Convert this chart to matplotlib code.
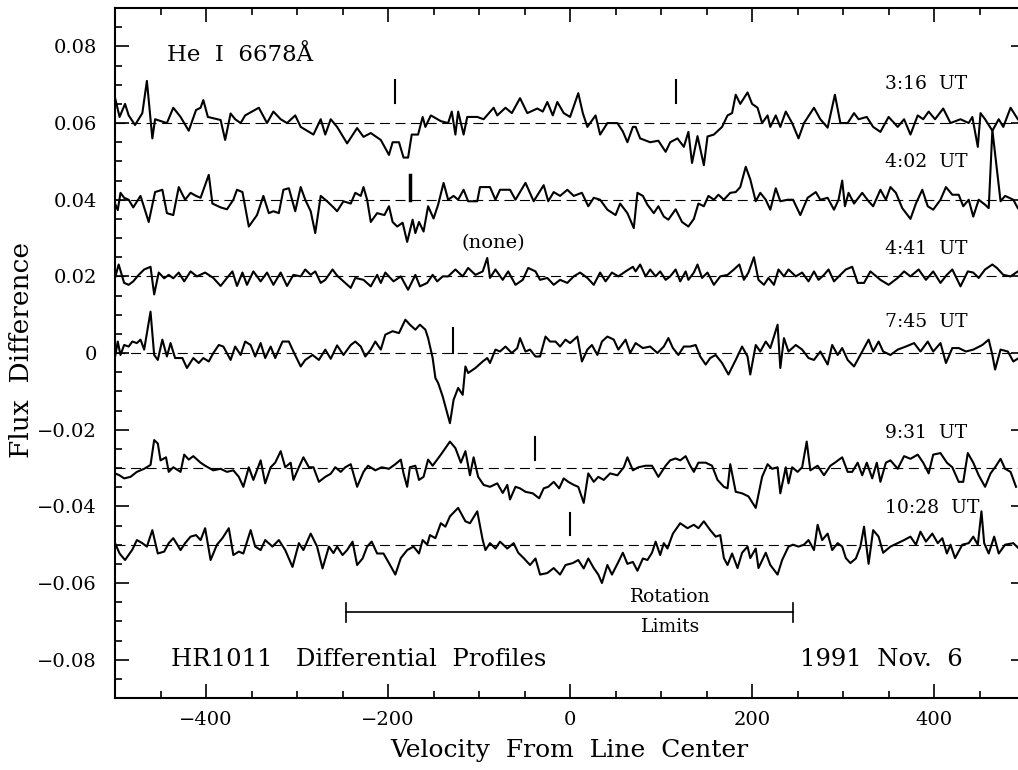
import numpy as np
import matplotlib
matplotlib.use('Agg')
import matplotlib.pyplot as plt
from matplotlib.ticker import MultipleLocator, FuncFormatter

plt.rcParams['font.family'] = 'DejaVu Serif'

# profile values are flux differences in units of 1e-3
t316_v = [-500,-495,-489,-485,-478,-470,-465,-459,-456,-443,-436,-428,-419,-411,-406,-403,-398,-384,-379,-373,
          -368,-362,-357,-342,-333,-326,-318,-311,-302,-296,-289,-282,-274,-269,-263,-256,-245,-234,-227,-219,
          -208,-199,-195,-188,-183,-178,-174,-167,-162,-159,-153,-142,-134,-130,-126,-123,-117,-113,-102,-95,
          -84,-80,-71,-64,-55,-47,-36,-30,-25,-19,-14,-7,0,9,14,19,28,33,41,52,
          58,63,69,72,77,88,97,105,110,118,125,130,134,140,147,151,158,167,173,178,
          182,187,195,200,206,211,217,220,226,231,237,244,251,257,268,275,283,291,297,305,
          312,317,326,333,341,350,360,367,374,382,388,394,401,410,418,429,438,442,448,451,
          456,464,471,476,484,492]
t316_f = [66.6,61.6,65,62,59.5,62.6,71,56,61,60,64,61.6,58,63.4,64,66,61.6,60.8,55.6,62.5,
          61,60,62,64,60,63,61,60,62,59,58,57,61,57,61,59,54.7,58.7,56.4,57.4,
          55.6,51.7,55,55,51,51,57,57,61.6,59,62,60.5,60,63,57,63,57,61.6,61.6,61,
          64,62,64,62.6,66.5,62.6,63.8,63,65.5,62,65.5,62.6,61.6,67.8,62.6,59,62,57,60,60,
          57.8,55,59,59,56,55,55.4,52.5,55,56,53.8,57.7,49.6,56.6,49,56.5,57,59,62,62.6,
          67.4,65,68,65,64,60,62,59,62,59,63,60,56,60,64,61,58.8,67.4,60,60,
          62.6,61,61.6,59,57.7,61.6,59,61,57,62,61,63,61,63.8,60,61,60,61.6,53.8,62.6,
          61,58,61,59,64,61]

t402_v = [-500,-497,-494,-490,-485,-480,-472,-463,-456,-448,-443,-436,-430,-423,-417,-411,-406,-401,-397,-393,
          -384,-377,-370,-366,-360,-353,-344,-337,-331,-326,-320,-315,-309,-302,-296,-291,-285,-280,-274,-267,
          -260,-256,-249,-241,-236,-230,-227,-223,-219,-212,-204,-199,-195,-190,-184,-179,-173,-170,-166,-161,
          -156,-150,-145,-139,-134,-128,-123,-117,-112,-102,-99,-88,-82,-77,-66,-60,-49,-40,-29,-24,
          -18,-11,-3,4,13,20,26,33,41,50,55,63,70,74,80,85,92,97,103,108,
          116,123,130,136,141,147,152,158,163,169,176,182,187,193,198,204,209,215,220,226,
          231,239,245,253,261,270,275,283,290,295,299,302,306,312,321,328,333,341,347,352,
          358,365,374,380,387,393,399,407,413,420,427,432,438,443,449,456,460,464,473,478,
          487,492]
t402_f = [39,37.3,41.8,40.5,40,38,41,34.2,42,42.6,36.5,36,43.3,40,41.8,41,40.5,43.8,46.5,39,
          38,37.5,40,42.6,42,33,36,41,36.5,37,36.5,42.6,43,37,43.3,40,37,31.3,41,39.6,
          38,37,39.6,39,41.8,41,43.3,40,34.2,36.5,36,38.3,34.2,33,34,29,34.8,31.3,34.2,31.7,
          38.3,35.1,38.7,44.4,40,41,40,42.6,39.6,39.6,43.3,43.3,40,42.6,42.6,40,44.4,39.6,43.8,39.6,
          42,41,42.6,41,41.8,38.3,40.5,40,37.4,36,39,36.5,32.6,41.8,41,38.7,36.5,38.3,35.6,34.8,
          37.5,34.2,33,35,39,38.3,41,40,41.3,40,41.8,42,43.3,48.6,45.3,39.6,41.8,40,37.4,43,
          39.6,40,40,36,40.5,42,40,40.5,37.4,40,45,38.3,41.8,39,41.8,39.6,38.3,42.6,40,43.3,
          41.8,37.8,35,39,42.6,38.3,37.4,40,43.3,41.3,41.3,38.3,40,35.6,40,38.7,37.8,58.2,39.6,41,
          40,37.8]

t441_v = [-500,-496,-490,-485,-480,-474,-468,-461,-457,-452,-446,-441,-436,-430,-424,-417,-410,-401,-392,-384,
          -377,-371,-366,-360,-355,-348,-340,-333,-326,-318,-311,-304,-296,-291,-285,-280,-274,-269,-261,-256,
          -249,-241,-236,-227,-219,-212,-208,-203,-194,-186,-178,-170,-165,-157,-151,-146,-140,-134,-126,-118,
          -112,-104,-96,-91,-88,-82,-74,-68,-60,-52,-46,-38,-33,-25,-18,-11,-3,4,11,19,
          26,33,39,46,53,61,69,72,77,83,88,94,99,105,110,116,121,127,130,136,
          140,145,151,158,165,173,180,186,191,196,202,207,213,218,224,229,235,240,248,255,
          262,268,273,279,284,290,297,303,310,316,323,330,341,350,360,367,374,383,391,399,
          407,414,420,429,437,443,449,456,464,469,476,484,492]
t441_f = [19.6,23.1,18.3,17.8,18.7,20.4,21.8,22.5,15.3,21,19.5,20.4,19.5,21,18.7,21.3,20,21,19.6,17.5,
          19.6,21.3,17.5,21,17.8,21.3,18.7,21,17.8,21,17.5,20.4,20,21.8,20.4,21.3,18.3,19.1,21.8,20.2,
          18.7,17,19.6,19.1,17.4,20.4,18.3,21,18.7,20,16.5,20.4,17.4,18.3,20.4,18.7,20,20,21.8,20,
          22.2,20.4,21.3,24.8,19.6,21.8,19.1,21.3,17.8,19.1,22.2,21.3,19.1,19.6,17.8,19.1,18.3,20,21,19.6,
          17.8,21,18.7,21,20,21.3,22.5,21.3,23.1,20,21.8,20,21.3,19.1,20,21.8,18.7,21.3,19.1,21,
          23.1,19.6,21,17.8,20,20.4,21.8,23.1,19.1,21,25,19.1,17.8,19.6,17.8,21.8,20,21.8,20,21,
          18.7,21.3,19.1,20.4,21.8,18.7,20.4,21.8,22.5,18.3,18.3,21.3,19.1,17.8,19.6,21.3,20,21.8,19.1,21.3,
          18.3,20.4,21.8,17.4,21.3,21,19.6,21.8,23.1,22.2,20.4,20,21.3]

t745_v = [-500,-497,-494,-490,-485,-481,-476,-472,-468,-461,-457,-453,-448,-443,-439,-434,-426,-421,-414,-408,
          -403,-397,-392,-386,-381,-373,-368,-362,-357,-351,-346,-340,-335,-329,-324,-316,-309,-304,-296,-291,
          -283,-276,-269,-263,-256,-249,-241,-236,-230,-225,-219,-214,-208,-203,-195,-188,-181,-176,-170,-165,
          -159,-156,-151,-148,-145,-140,-137,-132,-128,-123,-118,-115,-112,-104,-96,-91,-88,-82,-77,-71,
          -64,-58,-55,-49,-44,-38,-33,-27,-22,-16,-11,-5,0,8,13,19,24,30,35,41,
          48,53,61,66,72,80,88,96,103,108,113,119,125,132,138,143,149,154,160,167,
          174,182,189,195,198,204,209,215,220,224,228,231,235,240,248,255,262,268,275,283,
          288,294,299,305,312,321,328,333,339,344,352,360,369,378,385,393,399,407,413,420,
          427,435,443,453,460,464,467,473,481,487,493]
t745_f = [-1,3,-0.5,2.1,1.7,3,2.6,3.5,0.9,10.8,-0.5,-1.8,3.5,-0.9,2.6,-1.3,-1.3,-3.9,-1.3,-2.6,
          -1.3,-2.2,0,2.1,1.7,-1.8,1.7,-0.5,3,2.1,-0.9,2.6,-1.3,1.7,-1.3,3,3,0.4,-3.5,-1.8,
          -0.5,-1.8,0.9,-1.5,2,-0.5,2.1,3,1.7,-0.9,0.9,3,0.9,4.8,5.7,5.2,8.7,7.4,6.1,7.4,
          6.1,3.9,-1.3,-6.5,-7.8,-11.3,-13.9,-18.3,-12.2,-9.1,-10.9,-3.5,-5.2,-3.9,-2.2,-1.3,-2.6,0.9,0.4,1.7,
          0,1.3,3.9,0.4,0.9,-0.9,-0.9,4.3,3,3,1.7,3.5,2.6,4.3,-2.2,0.9,2.1,-0.5,3,4.3,
          3.5,0.9,3.5,0,2.6,1.3,1.7,0,1.7,3.9,1.3,-0.5,1.7,1.7,2.1,-0.9,-3,-1.3,-0.5,-2.6,
          -5.6,-1.8,1.7,-0.9,-5.6,2.1,0.4,3,1.3,4.3,7.4,-3.9,3.9,0.4,2.1,0.9,-1.3,-1.8,0.4,-3,
          2.1,-0.5,1.3,-1.8,-3.5,0.4,3.5,0.4,3,0.4,-0.5,0.9,1.7,2.6,0.4,3,0.4,2.6,-2.6,1.3,
          1.3,0.4,0.9,2.1,3.5,-0.5,-4.3,0.9,0.4,-2.2,-1.3]

t931_v = [-500,-495,-490,-483,-476,-468,-461,-457,-453,-450,-444,-441,-436,-428,-424,-419,-414,-406,-401,-392,
          -384,-377,-370,-364,-359,-353,-348,-340,-335,-329,-324,-318,-313,-307,-304,-298,-293,-287,-282,-276,
          -269,-263,-258,-252,-247,-241,-234,-227,-222,-214,-207,-199,-192,-186,-183,-179,-176,-170,-166,-161,
          -156,-151,-146,-142,-137,-132,-126,-120,-115,-110,-106,-101,-95,-88,-80,-74,-69,-66,-60,-55,
          -49,-41,-34,-29,-24,-18,-12,-7,-2,4,9,15,20,26,31,37,44,52,59,63,
          69,75,83,90,97,105,110,116,121,127,132,136,141,149,156,162,169,173,176,182,
          189,196,204,211,217,222,228,231,237,240,244,250,255,260,264,272,279,286,291,299,
          305,310,316,321,326,332,337,341,347,352,360,367,374,382,388,394,399,407,414,420,
          427,432,437,443,449,456,462,467,473,478,484,490]
t931_f = [-31.4,-31.9,-32.7,-32.3,-31,-30.2,-29.2,-22.7,-23.6,-28,-27.2,-31,-29.8,-31,-26.5,-27.8,-26.9,-28.6,-29.4,-30.6,
          -30.2,-31,-30.6,-32.3,-34.9,-29.8,-33.1,-28,-34,-29.8,-28.6,-25.6,-29.8,-28.6,-33.1,-29.8,-27.2,-29.8,-29.8,-33.6,
          -32.3,-31.5,-29.8,-31,-29.8,-29,-34.9,-31,-29.4,-30.6,-29.8,-30.2,-29,-27.8,-31.4,-34.9,-29.8,-29.4,-33.1,-32.3,
          -27.8,-29.4,-27.8,-26.5,-24.8,-23.1,-24.8,-28.6,-25.6,-31.9,-27.2,-32.3,-34.4,-34.9,-34,-36.5,-34.4,-38.2,-34.9,-35.3,
          -36.2,-36.6,-37.9,-35.3,-34.9,-33.6,-35.3,-32.7,-33.6,-34.4,-34.9,-39.1,-31.4,-33.6,-32.3,-33.1,-31.4,-31.9,-29.8,-27.2,
          -30.6,-29.8,-29.4,-29.4,-32.3,-29.4,-28,-27.5,-28,-26.9,-29.4,-31,-28.6,-28.6,-29.4,-33.1,-34.9,-35.3,-29,-36.2,
          -36.6,-37.4,-40.4,-32.3,-29,-30.2,-29.8,-36.6,-29.8,-34,-29.8,-31,-29.8,-23.1,-30.6,-29.4,-31.9,-29.4,-28.6,-27.2,
          -31,-31,-28.6,-31.9,-28.6,-32.7,-28.6,-33.6,-28.6,-28,-30.2,-26.9,-27.6,-26.5,-28.6,-31.4,-26.5,-26.1,-28.6,-29.8,
          -33.6,-33.6,-26.1,-28.6,-31.9,-34.9,-31.4,-29.8,-27.6,-30.2,-31,-34.9]

t1028_v = [-500,-495,-489,-481,-476,-470,-465,-459,-453,-446,-441,-436,-428,-423,-417,-411,-406,-401,-395,-388,
           -382,-375,-370,-364,-359,-351,-346,-340,-335,-327,-320,-313,-305,-298,-293,-285,-278,-272,-265,-260,
           -256,-250,-245,-239,-234,-228,-223,-218,-212,-205,-199,-192,-186,-179,-172,-166,-162,-157,-154,-148,
           -142,-137,-132,-123,-115,-110,-102,-96,-93,-88,-82,-77,-69,-62,-57,-51,-44,-38,-33,-25,
           -18,-11,-5,3,9,15,20,26,31,35,41,46,52,58,63,69,74,80,85,90,
           94,99,103,107,113,121,129,136,141,147,154,160,165,169,173,178,184,189,195,198,
           204,207,215,220,228,233,240,245,251,257,262,268,272,277,283,288,294,299,303,308,
           314,319,323,328,333,339,344,352,360,367,374,380,385,391,398,404,409,414,418,423,
           431,438,443,448,452,455,460,466,471,478,487,493]
t1028_f = [-49.6,-52.3,-54,-51.3,-48.8,-49.6,-50.5,-46.2,-52.3,-51.8,-49.6,-48.3,-51.4,-49.6,-47.9,-47.5,-48.8,-45.7,-54,-50,
           -48.3,-45.7,-52.7,-51.8,-52.3,-46.2,-50.5,-51.4,-48.8,-50.5,-48.8,-51.4,-55.8,-49.6,-51.4,-47.1,-50.5,-56.2,-50.5,-52.2,
           -50.5,-52.7,-51.4,-49.2,-55.3,-53.6,-50.5,-49.2,-52.3,-52.3,-54.8,-57.8,-53.5,-51.4,-50.5,-52.3,-48.8,-50,-47.5,-48.3,
           -44.4,-45.3,-42.6,-40.4,-43.9,-44.4,-41.3,-48.8,-51.4,-49.6,-51,-49.2,-51,-49.6,-52.1,-53.5,-55.3,-53.6,-57.8,-57.4,
           -56.1,-57.8,-55.3,-54.8,-54,-56.2,-53.6,-56.1,-57.8,-60,-55.3,-57.8,-55,-52.1,-55,-54.5,-56.8,-53.6,-54,-52.1,
           -49.2,-52.7,-49.6,-51,-47.1,-44.4,-45.7,-44.8,-45.7,-43.9,-46.2,-47.9,-47.5,-53.5,-55.3,-52.3,-56.1,-52.1,-50.5,-53.5,
           -51,-56.1,-52.1,-55.3,-57.8,-54,-50.5,-50,-50.5,-50,-48.8,-51.4,-44.8,-48.8,-47.1,-51.4,-49.6,-50.5,-53.5,-54.8,
           -53.6,-50.5,-45.3,-55,-46.2,-47.9,-52.1,-50.5,-49.6,-48.8,-47.9,-50,-46.6,-49.2,-47.1,-49.6,-48.3,-52.3,-50,-53.5,
           -50,-49.6,-47.9,-50,-41.3,-49.6,-52.3,-47.9,-52.3,-50,-49.6,-51]

labels = ['3:16  UT', '4:02  UT', '4:41  UT', '7:45  UT', '9:31  UT', '10:28  UT']
label_y = [0.0702, 0.0499, 0.0272, 0.0080, -0.0208, -0.0403]
baselines = [0.06, 0.04, 0.02, 0.0, -0.03, -0.05]

# short vertical markers on the profiles
mark_v = [-192, 116, -176, -129, -39, 0]
mark_lo = [0.0653, 0.0653, 0.0400, 0.0, -0.0280, -0.0475]
mark_hi = [0.0713, 0.0713, 0.0465, 0.0065, -0.0219, -0.0418]
mark_w = [1.5, 1.5, 2.5, 1.5, 1.5, 1.5]

rot_limits = [-246, 245]
rot_y = -0.0676

traces = [(t316_v, t316_f), (t402_v, t402_f), (t441_v, t441_f),
          (t745_v, t745_f), (t931_v, t931_f), (t1028_v, t1028_f)]

fig = plt.figure(figsize=(10.18, 7.70), dpi=100)
ax = fig.add_axes([0.113, 0.0935, 0.894, 0.896])

for b in baselines:
    ax.axhline(b, color='k', lw=0.8, ls=(0, (9, 5)))

for v, f in traces:
    ax.plot(v, np.array(f) / 1000.0, color='k', lw=1.5)

for v, lo, hi, w in zip(mark_v, mark_lo, mark_hi, mark_w):
    ax.plot([v, v], [lo, hi], color='k', lw=w)

for lab, y in zip(labels, label_y):
    ax.text(346, y, lab, fontsize=13.5, ha='left', va='center')

ax.text(-84, 0.0287, '(none)', fontsize=14, ha='center', va='center')
ax.text(-443, 0.0778, 'He  I  6678Å', fontsize=16.5, ha='left', va='center')
ax.text(-438, -0.0800, 'HR1011   Differential  Profiles', fontsize=17.5, ha='left', va='center')
ax.text(431, -0.0800, '1991  Nov.  6', fontsize=17.5, ha='right', va='center')

# rotation limits bar
ax.plot(rot_limits, [rot_y, rot_y], color='k', lw=1.2)
for r in rot_limits:
    ax.plot([r, r], [rot_y - 0.0025, rot_y + 0.0025], color='k', lw=1.2)
ax.text(110, -0.0637, 'Rotation', fontsize=13.5, ha='center', va='center')
ax.text(110, -0.0715, 'Limits', fontsize=13.5, ha='center', va='center')

ax.set_xlim(-500, 500)
ax.set_ylim(-0.09, 0.09)
ax.xaxis.set_major_locator(MultipleLocator(200))
ax.xaxis.set_minor_locator(MultipleLocator(50))
ax.yaxis.set_major_locator(MultipleLocator(0.02))
ax.yaxis.set_minor_locator(MultipleLocator(0.005))
ax.yaxis.set_major_formatter(FuncFormatter(
    lambda y, p: '0' if abs(y) < 1e-9 else f'{y:.2f}'.replace('-', '\u2212')))
ax.tick_params(which='both', direction='in', top=True, right=True, width=1.2)
ax.tick_params(which='major', length=10, labelsize=14)
ax.tick_params(which='minor', length=5)
ax.tick_params(axis='y', pad=13)
ax.tick_params(axis='x', pad=9)
for s in ax.spines.values():
    s.set_linewidth(1.5)

fig.text(22 / 1018, 1 - 350 / 770, 'Flux  Difference', rotation=90, fontsize=19,
         ha='center', va='center')
fig.text(569 / 1018, 1 - 750 / 770, 'Velocity  From  Line  Center', fontsize=18,
         ha='center', va='center')

fig.savefig('out.png', dpi=100)
